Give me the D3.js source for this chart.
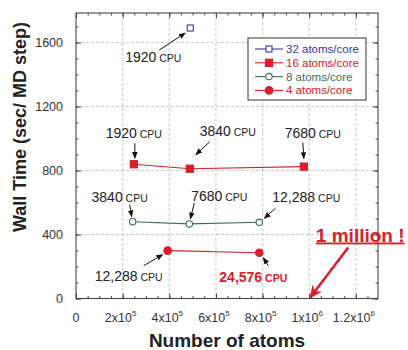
<!DOCTYPE html>
<html><head><meta charset="utf-8">
<script src="https://cdn.jsdelivr.net/npm/d3@7"></script>
<style>
html,body{margin:0;padding:0;background:#fff;}
svg{display:block;font-family:"Liberation Sans",Arial,sans-serif;}
</style></head>
<body><svg id="c" width="408" height="350"></svg>
<script>
// ---- data ----
const seriesNames = ["32 atoms/core", "16 atoms/core", "8 atoms/core", "4 atoms/core"];
const atoms32 = [490000];
const time32  = [1690];
const atoms16 = [248000, 488000, 977000];
const time16  = [839, 811, 824];
const atoms8  = [243000, 486000, 786000];
const time8   = [480, 466, 476];
const atoms4  = [393000, 786000];
const time4   = [299, 286];
const cpu32 = ["1920"];
const cpu16 = ["1920", "3840", "7680"];
const cpu8  = ["3840", "7680", "12,288"];
const cpu4  = ["12,288", "24,576"];
const xTicks = [0, 200000, 400000, 600000, 800000, 1000000, 1200000];
const xTickBase = ["0", "2x10", "4x10", "6x10", "8x10", "1x10", "1.2x10"];
const xTickExp  = ["", "5", "5", "5", "5", "6", "6"];
const yTicks = [0, 400, 800, 1200, 1600];

// ---- layout ----
const svg = d3.select("#c");
const L = 76, R = 378, T = 13, B = 298.5;
const x = d3.scaleLinear().domain([0, 1295000]).range([L, R]);
const y = d3.scaleLinear().domain([0, 1784]).range([B, T]);

const RED = "#d8202a", BLUE = "#3535a5", GREEN = "#3f7050", DARK = "#222";

// defs
const defs = svg.append("defs");
defs.append("marker").attr("id","ah").attr("viewBox","0 0 10 10").attr("refX",9).attr("refY",5)
  .attr("markerWidth",7).attr("markerHeight",7).attr("markerUnits","userSpaceOnUse").attr("orient","auto")
  .append("path").attr("d","M0,1 L10,5 L0,9 Z").attr("fill","#111");
defs.append("marker").attr("id","ahr").attr("viewBox","0 0 10 10").attr("refX",9).attr("refY",5)
  .attr("markerWidth",13).attr("markerHeight",13).attr("markerUnits","userSpaceOnUse").attr("orient","auto")
  .append("path").attr("d","M0,0.5 L10,5 L0,9.5 L3,5 Z").attr("fill",RED);

// grid
const g = svg.append("g");
g.selectAll(".gx").data(xTicks.slice(1)).join("line")
  .attr("x1",d=>x(d)).attr("x2",d=>x(d)).attr("y1",T).attr("y2",B)
  .attr("stroke","#bbb").attr("stroke-width",0.8).attr("stroke-dasharray","3,2");
g.selectAll(".gy").data(yTicks.slice(1)).join("line")
  .attr("y1",d=>y(d)).attr("y2",d=>y(d)).attr("x1",L).attr("x2",R)
  .attr("stroke","#bbb").attr("stroke-width",0.8).attr("stroke-dasharray","3,2");

// axes with inward ticks, all four sides
const xMinor = d3.range(0, 1295001, 50000);
const yMinor = d3.range(0, 1784, 100);
function addAxis(axisGen, tr){
  const a = svg.append("g").attr("transform",tr).call(axisGen);
  a.select(".domain").remove();
  a.selectAll("text").remove();
  a.selectAll("line").attr("stroke","#444");
  return a;
}
addAxis(d3.axisBottom(x).tickValues(xMinor).tickSize(-2.5), `translate(0,${B})`);
addAxis(d3.axisBottom(x).tickValues(xTicks).tickSize(-5), `translate(0,${B})`);
addAxis(d3.axisTop(x).tickValues(xMinor).tickSize(-2.5), `translate(0,${T})`);
addAxis(d3.axisTop(x).tickValues(xTicks).tickSize(-5), `translate(0,${T})`);
addAxis(d3.axisLeft(y).tickValues(yMinor).tickSize(-2.5), `translate(${L},0)`);
addAxis(d3.axisLeft(y).tickValues(yTicks).tickSize(-5), `translate(${L},0)`);
addAxis(d3.axisRight(y).tickValues(yMinor).tickSize(-2.5), `translate(${R},0)`);
addAxis(d3.axisRight(y).tickValues(yTicks).tickSize(-5), `translate(${R},0)`);

svg.append("rect").attr("x",L).attr("y",T).attr("width",R-L).attr("height",B-T)
  .attr("fill","none").attr("stroke","#444").attr("stroke-width",1.1);

// tick labels
svg.selectAll(".yl").data(yTicks).join("text")
  .attr("x",L-13).attr("y",d=>y(d)+4.5).attr("text-anchor","end")
  .attr("font-size",12.5).attr("fill","#333").text(d=>d);
const xl = svg.selectAll(".xl").data(xTicks).join("text")
  .attr("x",(d,i)=>x(d) + (xTickExp[i] ? -2 : 0)).attr("y",322).attr("text-anchor","middle")
  .attr("font-size",12.5).attr("fill","#333");
xl.append("tspan").text((d,i)=>xTickBase[i]);
xl.append("tspan").attr("font-size",8).attr("dy",-6).text((d,i)=>xTickExp[i]);

// axis titles
svg.append("text").attr("x",227).attr("y",347).attr("text-anchor","middle")
  .attr("font-size",19).attr("font-weight","bold").attr("fill","#222").text("Number of atoms");
svg.append("text").attr("transform","translate(26,127) rotate(-90)").attr("text-anchor","middle")
  .attr("font-size",18).attr("font-weight","bold").attr("fill","#222").text("Wall Time (sec/ MD step)");

// series
const line = d3.line().x(d=>x(d[0])).y(d=>y(d[1]));
const S = [
  {xs:atoms32, ys:time32, c:BLUE, m:"sq", fill:"#fff"},
  {xs:atoms16, ys:time16, c:RED, m:"sq", fill:RED},
  {xs:atoms8, ys:time8, c:GREEN, m:"ci", fill:"#fff"},
  {xs:atoms4, ys:time4, c:RED, m:"ci", fill:RED}
];
function marker(sel, s, cx, cy){
  if (s.m==="sq"){
    const h = s.fill==="#fff" ? 3 : 3.6;
    sel.append("rect").attr("x",cx-h).attr("y",cy-h).attr("width",2*h).attr("height",2*h)
      .attr("fill",s.fill).attr("stroke",s.c).attr("stroke-width",1.1);
  } else {
    sel.append("circle").attr("cx",cx).attr("cy",cy).attr("r", s.fill==="#fff"?3.2:3.8)
      .attr("fill",s.fill).attr("stroke",s.c).attr("stroke-width",1.1);
  }
}
S.forEach(s=>{
  const pts = s.xs.map((v,i)=>[v, s.ys[i]]);
  svg.append("path").attr("d",line(pts)).attr("fill","none").attr("stroke",s.c).attr("stroke-width",1.1);
  pts.forEach(p=>marker(svg, s, x(p[0]), y(p[1])));
});

// annotations (offsets in px relative to the data point)
const ann = [
  {px:atoms32[0], py:time32[0], t:cpu32[0], dx:-37, dy:34, a:[-31,22,-5,5], col:DARK, bold:false},
  {px:atoms16[0], py:time16[0], t:cpu16[0], dx:0, dy:-26, a:[1,-21,1,-6], col:DARK, bold:false},
  {px:atoms16[1], py:time16[1], t:cpu16[1], dx:38, dy:-33, a:[20,-27,6,-14], col:DARK, bold:false},
  {px:atoms16[2], py:time16[2], t:cpu16[2], dx:9, dy:-29, a:[-1,-24,0,-8], col:DARK, bold:false},
  {px:atoms8[0], py:time8[0], t:cpu8[0], dx:-13, dy:-20, a:[-3,-17,-1,-5], col:DARK, bold:false},
  {px:atoms8[1], py:time8[1], t:cpu8[1], dx:30, dy:-23, a:[5,-21,1,-5], col:DARK, bold:false},
  {px:atoms8[2], py:time8[2], t:cpu8[2], dx:47, dy:-20, a:[16,-14,5,-4], col:DARK, bold:false},
  {px:atoms4[0], py:time4[0], t:cpu4[0], dx:-39, dy:30, a:[-24,15,-5,4], col:DARK, bold:false},
  {px:atoms4[1], py:time4[1], t:cpu4[1], dx:-6, dy:29, a:[9,13,4,5], col:RED, bold:true}
];
ann.forEach(d=>{
  const cx = x(d.px), cy = y(d.py);
  const tx = svg.append("text").attr("x",cx+d.dx).attr("y",cy+d.dy).attr("text-anchor","middle")
    .attr("fill",d.col).attr("font-weight",d.bold?"bold":"normal");
  tx.append("tspan").attr("font-size",14).text(d.t);
  tx.append("tspan").attr("font-size",10.5).text(" CPU");
  svg.append("line").attr("x1",cx+d.a[0]).attr("y1",cy+d.a[1]).attr("x2",cx+d.a[2]).attr("y2",cy+d.a[3])
    .attr("stroke","#111").attr("stroke-width",1).attr("marker-end","url(#ah)");
});

// 1 million
const mx = x(1000000), my = y(0);
svg.append("text").attr("x",mx+51).attr("y",my-57).attr("text-anchor","middle")
  .attr("font-size",19).attr("font-weight","bold").attr("fill",RED)
  .attr("text-decoration","underline").text("1 million !");
svg.append("line").attr("x1",mx+39).attr("y1",my-51).attr("x2",mx+1).attr("y2",my-1)
  .attr("stroke",RED).attr("stroke-width",2.6).attr("marker-end","url(#ahr)");

// legend
const lg = svg.append("g");
lg.append("rect").attr("x",248).attr("y",38).attr("width",118).attr("height",62)
  .attr("fill","#fff").attr("stroke","#333").attr("stroke-width",1);
const legCols = [BLUE, RED, GREEN, RED];
seriesNames.forEach((n,i)=>{
  const yy = 49 + i*13.8;
  lg.append("line").attr("x1",255).attr("x2",283).attr("y1",yy).attr("y2",yy)
    .attr("stroke",S[i].c).attr("stroke-width",1.1);
  marker(lg, S[i], 269, yy);
  lg.append("text").attr("x",286).attr("y",yy+4).attr("font-size",11.5)
    .attr("fill",legCols[i]).text(n);
});
</script></body></html>
